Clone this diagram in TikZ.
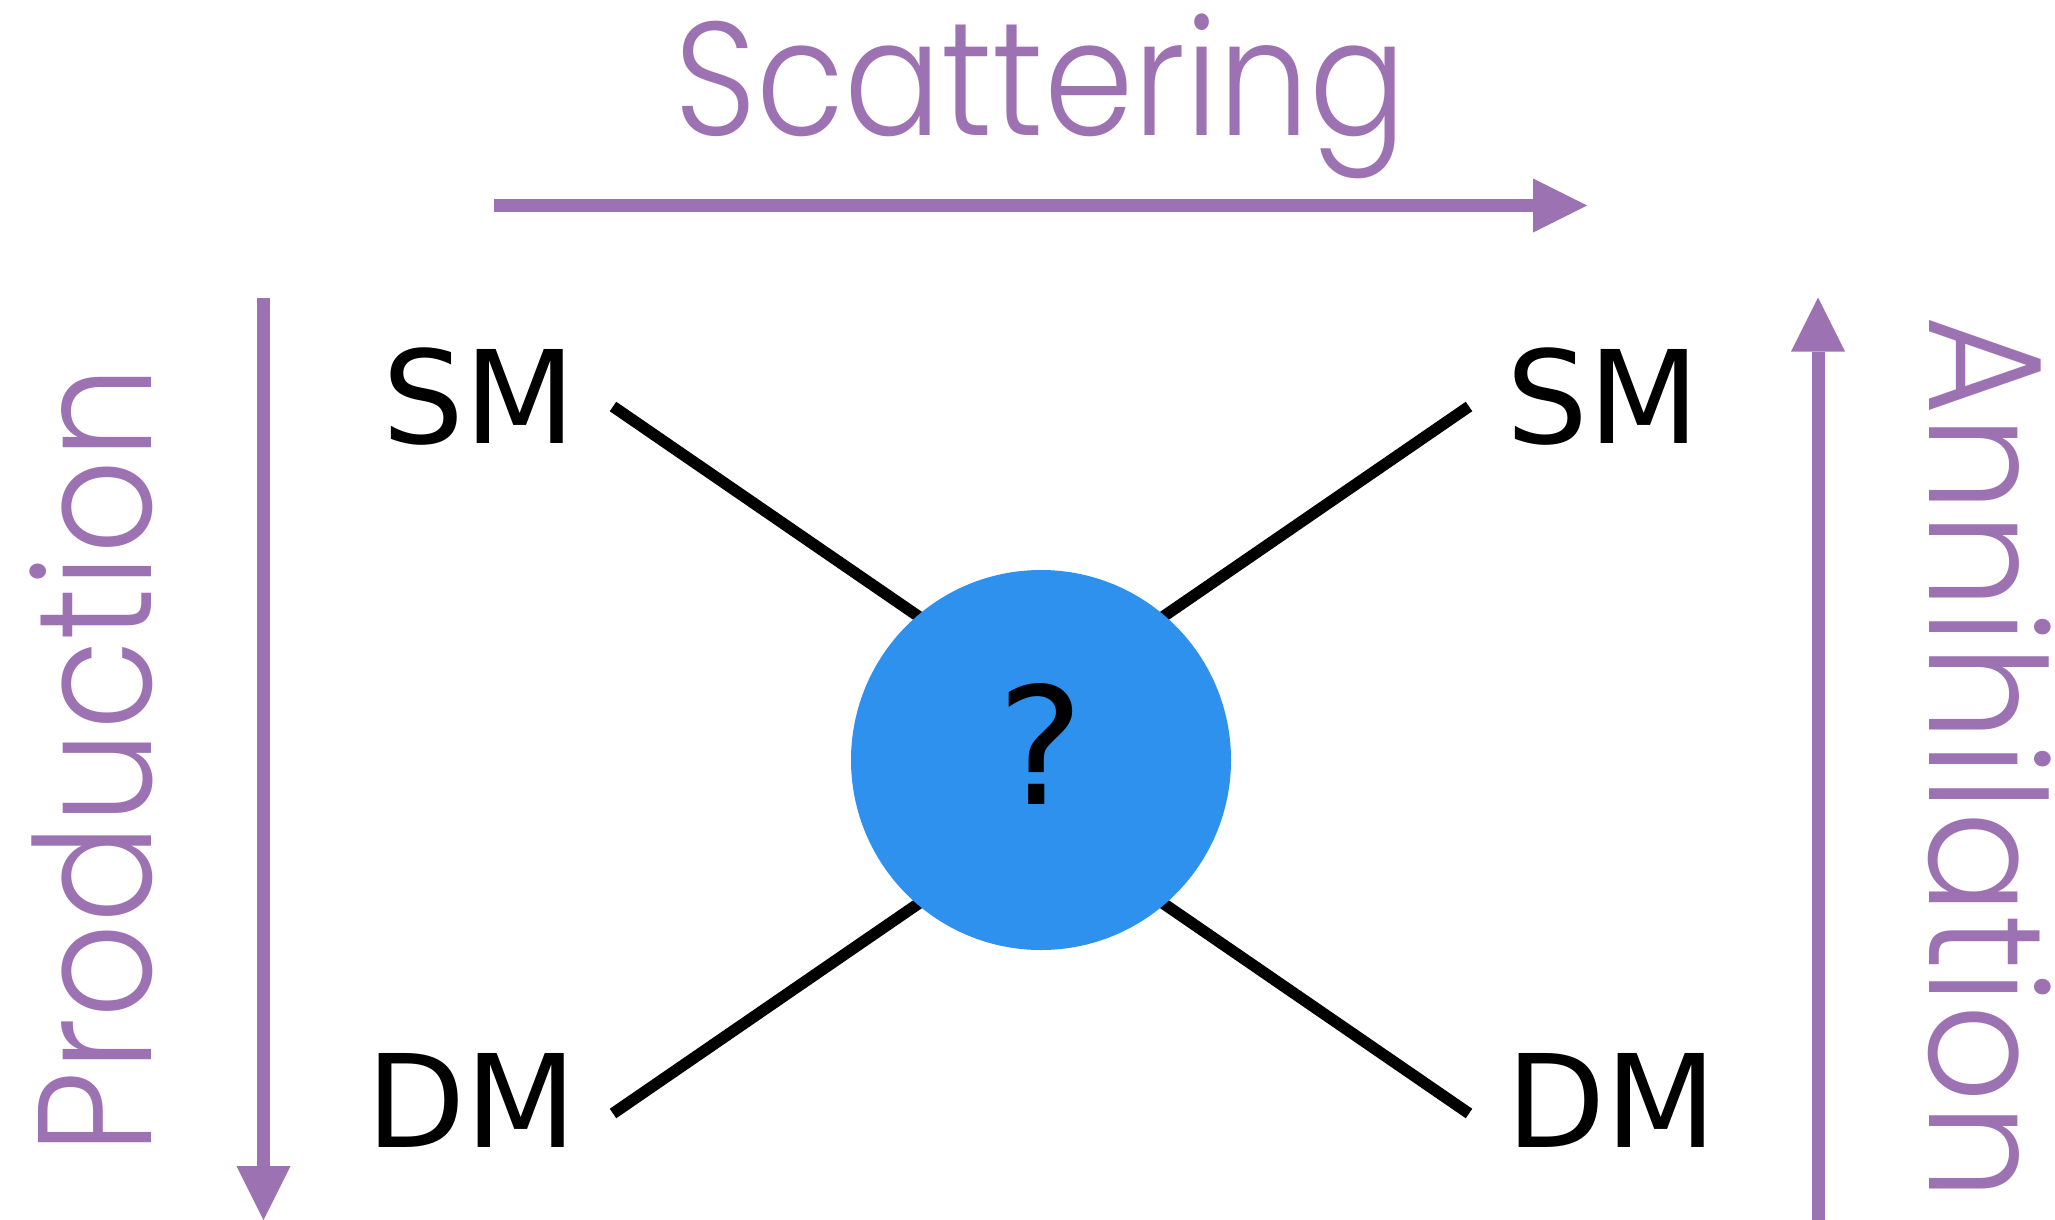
\documentclass[tikz,border=0pt]{standalone}
\usepackage{fontspec}
\usetikzlibrary{arrows.meta}
\newfontfamily\labfont{Poppins Light}
\newfontfamily\djv{DejaVu Sans}
\definecolor{lilac}{RGB}{157,114,178}
\definecolor{bubble}{RGB}{46,145,237}
\begin{document}
\begin{tikzpicture}[x=1pt,y=-1pt,
  parrow/.style={color=lilac, line width=13pt, -{Triangle[length=54pt,width=54pt,line width=0pt]}},
  leg/.style={draw=black, line width=11.5pt},
  ptext/.style={inner sep=0pt, text=lilac, anchor=south},
  particle/.style={inner sep=0pt, font=\djv\fontsize{129}{150}\selectfont},
]
\useasboundingbox (0,0) rectangle (2055,1220);

% direction arrows
\coordinate (s0) at (494,205.5);
\coordinate (s1) at (1587,205.5);
\coordinate (p0) at (263.5,297.5);
\coordinate (p1) at (263.5,1220);
\coordinate (a0) at (1818,1220);
\coordinate (a1) at (1818,297.5);
\draw[parrow] (s0) -- (s1);
\draw[parrow] (p0) -- (p1);
\draw[parrow] (a0) -- (a1);

% arrow labels
\node[ptext] (scat) at (1040.5,136) {\resizebox{732pt}{113pt}{\labfont\smash{Scattering}\vphantom{H}}};
\node[ptext, rotate=90] (prod) at (152,760.5) {\resizebox{787pt}{113pt}{\labfont\smash{Production}\vphantom{H}}};
\node[ptext, rotate=-90] (anni) at (1929.5,758) {\resizebox{884pt}{113pt}{\labfont\smash{Annihilation}\vphantom{H}}};

% legs
\coordinate (tlo) at (613,406.5);
\coordinate (tli) at (921.5,618.5);
\coordinate (tro) at (1469,406.5);
\coordinate (tri) at (1160.5,618.5);
\coordinate (blo) at (613,1113.5);
\coordinate (bli) at (921.5,901.5);
\coordinate (bro) at (1469,1113.5);
\coordinate (bri) at (1160.5,901.5);
\draw[leg] (tlo) -- (tli);
\draw[leg] (tro) -- (tri);
\draw[leg] (blo) -- (bli);
\draw[leg] (bro) -- (bri);

% blob
\node[circle, fill=bubble, minimum size=380pt, inner sep=0pt] (blob) at (1041,760) {};
\node[inner sep=0pt, anchor=base, font=\djv\fontsize{163}{190}\selectfont] (q) at (1041,804) {?};

% particle labels
\node[particle, anchor=base east] (smL) at (576,443) {SM};
\node[particle, anchor=base west] (smR) at (1506,443) {SM};
\node[particle, anchor=base east] (dmL) at (577,1147) {DM};
\node[particle, anchor=base west] (dmR) at (1506,1147) {DM};
\end{tikzpicture}
\end{document}
